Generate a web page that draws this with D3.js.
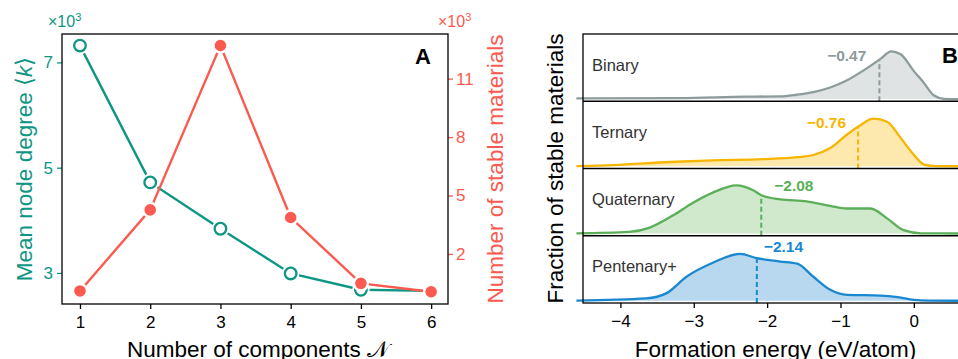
<!DOCTYPE html>
<html>
<head>
<meta charset="utf-8">
<script src="https://cdn.jsdelivr.net/npm/d3@7"></script>
<style>
  body { margin: 0; background: #fff; }
  svg { display: block; font-family: "Liberation Sans", Arial, Helvetica, sans-serif; }
</style>
</head>
<body>
<svg id="chart"></svg>
<script>
// ---------- data (panel A, values in units of 10^3) ----------
const components = [1, 2, 3, 4, 5, 6];
const meanDegree = [7.32, 4.72, 3.84, 2.99, 2.68, 2.66];
const stableCount = [0.10, 4.26, 12.70, 3.87, 0.49, 0.06];
const degreeTicks = [3, 5, 7];
const countTicks = [2, 5, 8, 11];

// ---------- data (panel B) ----------
const systems = ['Binary', 'Ternary', 'Quaternary', 'Pentenary+'];
const medianEnergy = [-0.47, -0.76, -2.08, -2.14];
const energyTicks = [-4, -3, -2, -1, 0];

const binaryEnergy = [-4.6, -3.2, -2.3, -1.82, -1.6, -1.37, -1.14, -0.91, -0.68, -0.45, -0.31, -0.18, 0, 0.14, 0.27, 0.41, 0.6, 0.9];
const binaryDensity = [0.015, 0.02, 0.05, 0.056, 0.09, 0.145, 0.24, 0.39, 0.60, 0.84, 0.99, 0.93, 0.58, 0.33, 0.08, 0.006, 0, 0];

const ternaryEnergy = [-4.6, -4.1, -3.33, -2.74, -2.05, -1.59, -1.37, -1.14, -0.91, -0.75, -0.55, -0.36, -0.18, 0, 0.14, 0.3, 0.9];
const ternaryDensity = [0.005, 0.025, 0.09, 0.125, 0.15, 0.19, 0.235, 0.38, 0.66, 0.83, 0.99, 0.92, 0.59, 0.24, 0.035, 0.003, 0];

const quaternaryEnergy = [-4.6, -3.88, -3.6, -3.28, -3.01, -2.74, -2.42, -2.19, -2.07, -1.82, -1.46, -1.14, -0.91, -0.59, -0.36, -0.14, 0.1, 0.9];
const quaternaryDensity = [0.004, 0.035, 0.125, 0.38, 0.64, 0.85, 1.0, 0.90, 0.79, 0.71, 0.67, 0.575, 0.52, 0.52, 0.31, 0.07, 0.005, 0];

const pentenaryEnergy = [-4.6, -3.65, -3.37, -3.1, -2.74, -2.37, -2.14, -1.82, -1.59, -1.37, -1.14, -0.91, -0.45, -0.22, 0, 0.2, 0.9];
const pentenaryDensity = [0.004, 0.05, 0.16, 0.50, 0.79, 0.975, 0.885, 0.815, 0.77, 0.50, 0.23, 0.125, 0.11, 0.077, 0.02, 0.004, 0];

// ---------- styles ----------
const teal = '#0e9684';
const coral = '#fa5a50';
const ridgeColors = ['#8e9b9b', '#f6b600', '#5aaf58', '#1a87d1'];
const ridgeFills = ['#dfe3e3', '#fde8ae', '#d0e8cc', '#b7d8ef'];
// label placement relative to the top of the median marker
const medianLabelPos = [
  {anchor: 'end', dx: -13, dy: 1},
  {anchor: 'end', dx: -12, dy: 1},
  {anchor: 'start', dx: 13, dy: -4},
  {anchor: 'start', dx: 7, dy: -6}
];

const svg = d3.select('#chart')
    .attr('width', 958)
    .attr('height', 359);

function styleAxis(g, color) {
  g.attr('font-family', null);
  g.select('.domain').remove();
  g.selectAll('.tick line').attr('stroke', color).attr('stroke-width', 1.3);
  g.selectAll('.tick text').attr('fill', color).attr('font-size', 17);
}

// ======================= Panel A =======================
const a = {left: 62, top: 34, width: 386, height: 270};
const gA = svg.append('g').attr('transform', `translate(${a.left},${a.top})`);

const xA = d3.scaleLinear().domain([0.744, 6.24]).range([0, a.width]);
const yDeg = d3.scaleLinear().domain([2.41, 7.54]).range([a.height, 0]);
const yCnt = d3.scaleLinear().domain([-0.57, 13.29]).range([a.height, 0]);

gA.append('g')
    .attr('transform', `translate(0,${a.height})`)
    .call(d3.axisBottom(xA).tickValues(components).tickSize(5).tickPadding(7).tickFormat(d3.format('d')))
    .call(g => styleAxis(g, '#000'));

gA.append('g')
    .call(d3.axisLeft(yDeg).tickValues(degreeTicks).tickSize(5).tickPadding(4).tickFormat(d3.format('d')))
    .call(g => styleAxis(g, teal));

gA.append('g')
    .attr('transform', `translate(${a.width},0)`)
    .call(d3.axisRight(yCnt).tickValues(countTicks).tickSize(5).tickPadding(3).tickFormat(d3.format('d')))
    .call(g => styleAxis(g, coral));

const pointsA = components.map((n, i) => ({n, deg: meanDegree[i], cnt: stableCount[i]}));

gA.append('path')
    .datum(pointsA)
    .attr('fill', 'none')
    .attr('stroke', teal)
    .attr('stroke-width', 2.4)
    .attr('d', d3.line().x(d => xA(d.n)).y(d => yDeg(d.deg)));

gA.selectAll('.deg-halo')
    .data(pointsA)
  .join('circle')
    .attr('class', 'deg-halo')
    .attr('cx', d => xA(d.n))
    .attr('cy', d => yDeg(d.deg))
    .attr('r', 8.8)
    .attr('fill', '#fff');

gA.selectAll('.deg-dot')
    .data(pointsA)
  .join('circle')
    .attr('class', 'deg-dot')
    .attr('cx', d => xA(d.n))
    .attr('cy', d => yDeg(d.deg))
    .attr('r', 5.8)
    .attr('fill', '#fff')
    .attr('stroke', teal)
    .attr('stroke-width', 2.3);

gA.append('path')
    .datum(pointsA)
    .attr('fill', 'none')
    .attr('stroke', coral)
    .attr('stroke-width', 2.4)
    .attr('d', d3.line().x(d => xA(d.n)).y(d => yCnt(d.cnt)));

gA.selectAll('.cnt-dot')
    .data(pointsA)
  .join('circle')
    .attr('class', 'cnt-dot')
    .attr('cx', d => xA(d.n))
    .attr('cy', d => yCnt(d.cnt))
    .attr('r', 7)
    .attr('fill', coral)
    .attr('stroke', '#fff')
    .attr('stroke-width', 2.4);

gA.append('rect')
    .attr('width', a.width)
    .attr('height', a.height)
    .attr('fill', 'none')
    .attr('stroke', '#000')
    .attr('stroke-width', 1.3);

gA.append('text')
    .attr('x', a.width - 17)
    .attr('y', 30)
    .attr('text-anchor', 'end')
    .attr('font-size', 22)
    .attr('font-weight', 'bold')
    .text('A');

// x10^3 multipliers
[[48, teal], [438, coral]].forEach(([x, c]) => {
  const t = svg.append('text')
      .attr('x', x)
      .attr('y', 27)
      .attr('font-size', 16)
      .attr('fill', c);
  t.append('tspan').text('×10');
  t.append('tspan').attr('dy', -6).attr('font-size', 11).text('3');
});

// axis titles
const degLabel = svg.append('text')
    .attr('transform', `translate(32,${a.top + a.height / 2}) rotate(-90)`)
    .attr('text-anchor', 'middle')
    .attr('font-size', 22.5)
    .attr('fill', teal);
degLabel.append('tspan').text('Mean node degree \u27E8');
degLabel.append('tspan').attr('font-style', 'italic').text('k');
degLabel.append('tspan').text('\u27E9');

svg.append('text')
    .attr('transform', `translate(503,${a.top + a.height / 2}) rotate(-90)`)
    .attr('text-anchor', 'middle')
    .attr('font-size', 22.5)
    .attr('fill', coral)
    .text('Number of stable materials');

svg.append('text')
    .attr('x', 258)
    .attr('y', 356.5)
    .attr('text-anchor', 'middle')
    .attr('font-size', 22.5)
    .text('Number of components \u{1D4A9}');

// ======================= Panel B =======================
const b = {left: 583, top: 34, width: 391, height: 269};
const gB = svg.append('g').attr('transform', `translate(${b.left},${b.top})`);

const xB = d3.scaleLinear().domain([-4.51, 0.82]).range([0, b.width]);
const yRow = d3.scaleBand().domain(systems).range([0, b.height]);
const yDen = d3.scaleLinear().domain([-0.045, 1.35]).range([yRow.bandwidth(), 0]);

const energies = [binaryEnergy, ternaryEnergy, quaternaryEnergy, pentenaryEnergy];
const densities = [binaryDensity, ternaryDensity, quaternaryDensity, pentenaryDensity];

const ridges = systems.map((name, i) => ({
  name,
  median: medianEnergy[i],
  points: energies[i].map((e, j) => [e, densities[i][j]]),
  atMedian: d3.scaleLinear().domain(energies[i]).range(densities[i])(medianEnergy[i]),
  color: ridgeColors[i],
  fill: ridgeFills[i],
  pos: medianLabelPos[i]
}));

const area = d3.area()
    .x(d => xB(d[0]))
    .y0(yDen(0))
    .y1(d => yDen(d[1]))
    .curve(d3.curveMonotoneX);

const line = d3.line()
    .x(d => xB(d[0]))
    .y(d => yDen(d[1]))
    .curve(d3.curveMonotoneX);

const rows = gB.selectAll('.ridge')
    .data(ridges)
  .join('g')
    .attr('class', 'ridge')
    .attr('transform', d => `translate(0,${yRow(d.name)})`);

rows.append('path')
    .attr('d', d => area(d.points))
    .attr('fill', d => d.fill);

rows.append('path')
    .attr('d', d => line(d.points))
    .attr('fill', 'none')
    .attr('stroke', d => d.color)
    .attr('stroke-width', 2.3);

rows.append('line')
    .attr('x1', d => xB(d.median))
    .attr('x2', d => xB(d.median))
    .attr('y1', yRow.bandwidth())
    .attr('y2', d => yDen(d.atMedian))
    .attr('stroke', d => d.color)
    .attr('stroke-width', 2)
    .attr('stroke-dasharray', '5,3');

rows.append('text')
    .attr('x', d => xB(d.median) + d.pos.dx)
    .attr('y', d => yDen(d.atMedian) + d.pos.dy)
    .attr('text-anchor', d => d.pos.anchor)
    .attr('font-size', 15.5)
    .attr('font-weight', 'bold')
    .attr('fill', d => d.color)
    .text(d => d3.format('.2f')(d.median));

rows.append('text')
    .attr('x', 9)
    .attr('y', 36.5)
    .attr('font-size', 16.5)
    .attr('fill', '#333')
    .text(d => d.name);

// row dividers and frame
gB.selectAll('.divider')
    .data(systems.slice(1))
  .join('line')
    .attr('class', 'divider')
    .attr('x1', 0)
    .attr('x2', b.width)
    .attr('y1', d => yRow(d))
    .attr('y2', d => yRow(d))
    .attr('stroke', '#000')
    .attr('stroke-width', 1.3);

gB.append('rect')
    .attr('width', b.width)
    .attr('height', b.height)
    .attr('fill', 'none')
    .attr('stroke', '#000')
    .attr('stroke-width', 1.3);

gB.append('g')
    .attr('transform', `translate(0,${b.height})`)
    .call(d3.axisBottom(xB).tickValues(energyTicks).tickSize(5).tickPadding(7).tickFormat(d3.format('d')))
    .call(g => styleAxis(g, '#000'));

gB.append('text')
    .attr('x', b.width - 32)
    .attr('y', 29)
    .attr('font-size', 22)
    .attr('font-weight', 'bold')
    .text('B');

svg.append('text')
    .attr('transform', `translate(563,${b.top + b.height / 2}) rotate(-90)`)
    .attr('text-anchor', 'middle')
    .attr('font-size', 22.5)
    .text('Fraction of stable materials');

svg.append('text')
    .attr('x', 775.5)
    .attr('y', 356.5)
    .attr('text-anchor', 'middle')
    .attr('font-size', 22.5)
    .text('Formation energy (eV/atom)');
</script>
</body>
</html>
